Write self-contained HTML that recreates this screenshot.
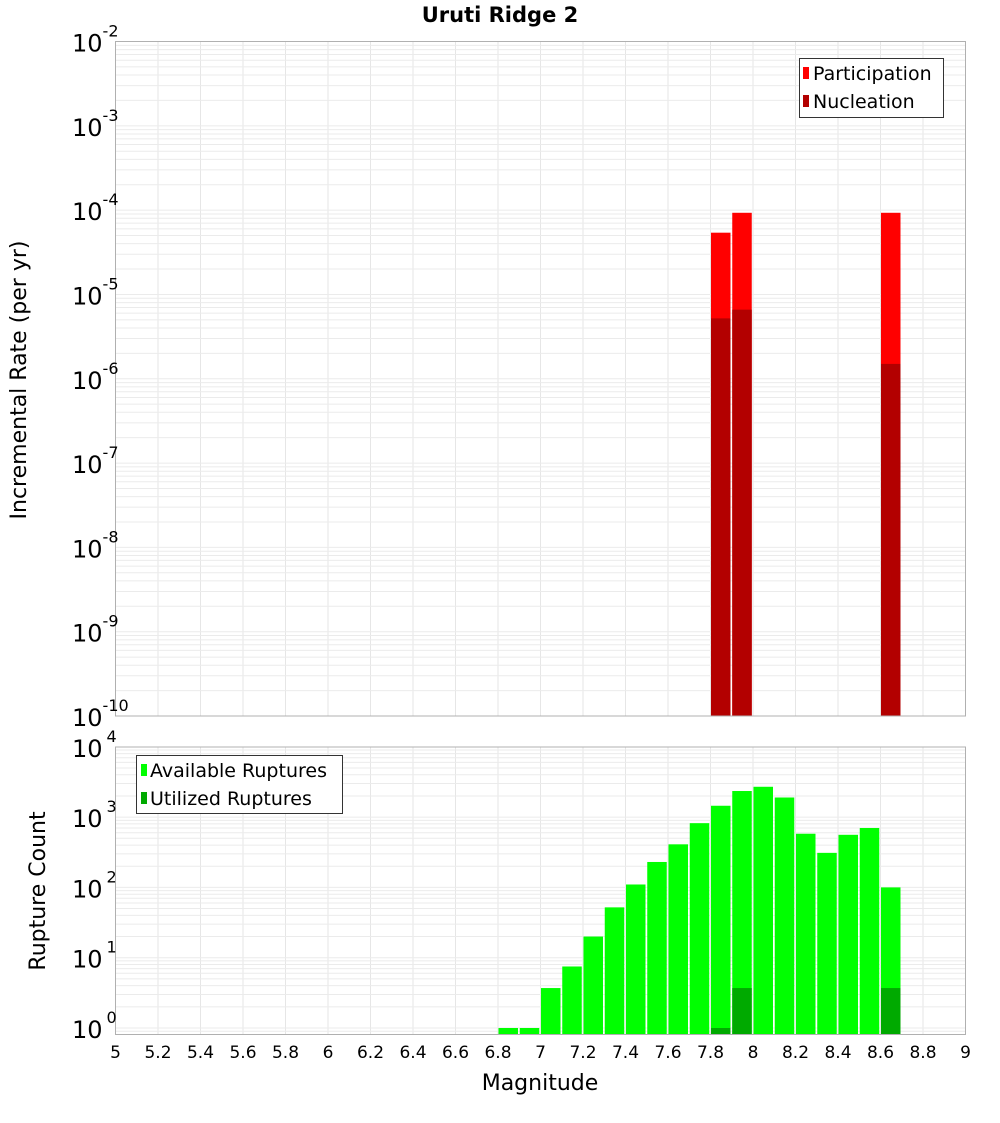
<!DOCTYPE html>
<html><head><meta charset="utf-8"><style>
body{margin:0;background:#fff;font-family:"DejaVu Sans","Liberation Sans",sans-serif}
svg text{font-family:"DejaVu Sans","Liberation Sans",sans-serif}
</style></head><body>
<svg id="c" width="1000" height="1100" xmlns="http://www.w3.org/2000/svg"></svg>
<script>
const mags = [6.8,6.9,7.0,7.1,7.2,7.3,7.4,7.5,7.6,7.7,7.8,7.9,8.0,8.1,8.2,8.3,8.4,8.5,8.6];
const available = [1,1,3.7,7.5,20,52,110,230,410,820,1450,2350,2700,1900,580,310,560,700,100];
const utilized = [0,0,0,0,0,0,0,0,0,0,1,3.7,0,0,0,0,0,0,3.7];
const rateMags = [7.8,7.9,8.6];
const participation = [5.4e-5,9.3e-5,9.3e-5];
const nucleation = [5.2e-6,6.6e-6,1.5e-6];
const xTicks = [5,5.2,5.4,5.6,5.8,6,6.2,6.4,6.6,6.8,7,7.2,7.4,7.6,7.8,8,8.2,8.4,8.6,8.8,9];
const topExps = [-2,-3,-4,-5,-6,-7,-8,-9,-10];
const botExps = [4,3,2,1,0];

const svg = document.getElementById('c');
const NS = 'http://www.w3.org/2000/svg';
function mk(tag, attrs, parent){const e=document.createElementNS(NS,tag);for(const k in attrs)e.setAttribute(k,attrs[k]);(parent||svg).appendChild(e);return e;}
const L=115.5,R=965.5;
const X = m => L + (m-5)*(R-L)/4;
const TT=41.5,TB=716;
const yTop = v => TB - (Math.log10(v)+10)*(TB-TT)/8;
const BT=747,BB=1034.5,DEC=70.3;
const yBot = v => Math.min(BB, 1028 - Math.log10(v)*DEC);

function grid(top,bottom,yf,lo,hi){
  const g=mk('g',{});
  
  
  for(const t of xTicks){mk('line',{x1:X(t),x2:X(t),y1:top,y2:bottom,stroke:'#e6e6e6','stroke-width':1},g);}
  for(let e=lo;e<hi;e++)for(let k=1;k<10;k++){const y=yf(k*Math.pow(10,e));if(y>top&&y<bottom)mk('line',{x1:L,x2:R,y1:y,y2:y,stroke:'#ebebeb','stroke-width':1},g);}
}
grid(TT,TB,yTop,-10,-2);
grid(BT,BB,yBot,-1,4);

// top bars
const bw=19.5;
rateMags.forEach((m,i)=>{
  const r=mk('rect',{x:X(m)+0.5,y:yTop(participation[i]),width:bw,height:TB-yTop(participation[i]),fill:'#ff0000'});
  
  
  const n=mk('rect',{x:X(m)+0.5,y:yTop(nucleation[i]),width:bw,height:TB-yTop(nucleation[i]),fill:'#b30000'});
  
  
});
// bottom bars
mags.forEach((m,i)=>{
  const r=mk('rect',{x:X(m)+0.5,y:yBot(available[i]),width:bw,height:BB-yBot(available[i]),fill:'#00ff00'});
  
  
  if(utilized[i]>0){
    const u=mk('rect',{x:X(m)+0.5,y:yBot(utilized[i]),width:bw,height:BB-yBot(utilized[i]),fill:'#00aa00'});
    
    
  }
});
mk('rect',{x:L,y:TT,width:R-L,height:TB-TT,fill:'none',stroke:'#b0b0b0'});
mk('rect',{x:L,y:BT,width:R-L,height:BB-BT,fill:'none',stroke:'#b0b0b0'});

function powLabel(y,e,name){
  const t=mk('text',{x:106,y:y+10,'text-anchor':'end','font-size':24,fill:'#000'});
  
  
  const a=mk('tspan',{},t);a.textContent='10';
  const b=mk('tspan',{'font-size':16,dy:-15},t);b.textContent=String(e);
  // place superscript after: reposition using end anchor is fine
}
topExps.forEach(e=>{
  const t=mk('text',{x:72,y:yTop(Math.pow(10,e))+10,'font-size':24,fill:'#000'});
  
  
  const a=mk('tspan',{},t);a.textContent='10';
  const b=mk('tspan',{'font-size':16,dy:-15},t);b.textContent=String(e);
});
botExps.forEach(e=>{
  const t=mk('text',{x:72,y:yBot(Math.pow(10,e))+10,'font-size':24,fill:'#000'});
  
  
  const a=mk('tspan',{},t);a.textContent='10';
  const b=mk('tspan',{'font-size':16,dy:-15,dx:4},t);b.textContent=String(e);
});
xTicks.forEach(v=>{
  const t=mk('text',{x:X(v),y:1058,'text-anchor':'middle','font-size':17,fill:'#000'});
  
  
  t.textContent=String(v);
});
</script>
<svg width="0" height="0"></svg>
<div style="position:absolute;left:0;top:0;width:1000px;height:1100px;pointer-events:none">
<svg width="1000" height="1100" xmlns="http://www.w3.org/2000/svg" style="position:absolute;left:0;top:0">
<text x="500" y="22" text-anchor="middle" font-size="21" font-weight="bold">Uruti Ridge 2</text>
<text transform="translate(26,380) rotate(-90)" text-anchor="middle" font-size="22">Incremental Rate (per yr)</text>
<text transform="translate(45,891) rotate(-90)" text-anchor="middle" font-size="22">Rupture Count</text>
<text x="540" y="1090" text-anchor="middle" font-size="22">Magnitude</text>
<g>
<rect x="799.5" y="58.5" width="144" height="59" fill="#fff" stroke="#333"/>
<rect x="803" y="67" width="6" height="12" fill="#ff0000"/>
<text x="813" y="80" font-size="19">Participation</text>
<rect x="803" y="95" width="6" height="12" fill="#b30000"/>
<text x="813" y="108" font-size="19">Nucleation</text>
</g>
<g>
<rect x="136.5" y="755.5" width="206" height="58" fill="#fff" stroke="#333"/>
<rect x="141" y="764" width="6" height="12" fill="#00ff00"/>
<text x="150" y="777" font-size="19">Available Ruptures</text>
<rect x="141" y="792" width="6" height="12" fill="#00aa00"/>
<text x="150" y="805" font-size="19">Utilized Ruptures</text>
</g>
</svg>
</div>
</body></html>
